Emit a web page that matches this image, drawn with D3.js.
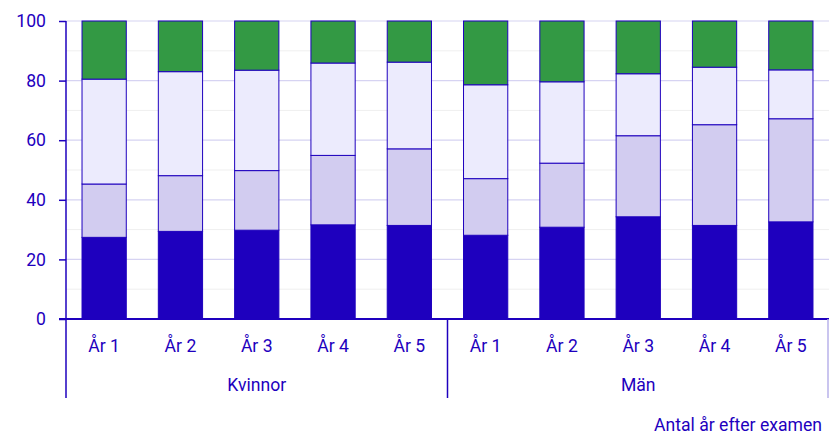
<!DOCTYPE html>
<html>
<head>
<meta charset="utf-8">
<script src="https://cdn.jsdelivr.net/npm/d3@7"></script>
<style>
html,body{margin:0;padding:0;background:#fff;}
svg{display:block;font-family:Roboto, "Noto Sans", sans-serif;}
</style>
</head>
<body>
<svg id="chart" width="829" height="434"></svg>
<script>
const groups = ["Kvinnor", "Män"];
const years = ["År 1", "År 2", "År 3", "År 4", "År 5"];
const seriesKeys = ["s1", "s2", "s3", "s4"];
const s1 = [27.4, 29.4, 29.8, 31.6, 31.4, 28.1, 30.8, 34.3, 31.4, 32.6];
const s2 = [17.9, 18.7, 20.0, 23.3, 25.7, 19.0, 21.5, 27.2, 33.8, 34.6];
const s3 = [35.2, 34.9, 33.7, 31.0, 29.1, 31.5, 27.3, 20.8, 19.3, 16.4];
const s4 = [19.5, 17.0, 16.5, 14.1, 13.8, 21.4, 20.4, 17.7, 15.5, 16.4];
const yTicks = [0, 20, 40, 60, 80, 100];
const xTitle = "Antal år efter examen";

const colors = ["#1e00be", "#d2ccf0", "#ecebfd", "#339944"];
const ink = "#1e00be";
const fs = 17.6;

const rows = [];
groups.forEach((g, gi) => years.forEach((y, yi) => {
  const i = gi * years.length + yi;
  rows.push({group: g, year: y, s1: s1[i], s2: s2[i], s3: s3[i], s4: s4[i]});
}));

const svg = d3.select("#chart");
const L = 66, R = 829, T = 21, B = 319;

const x0 = d3.scaleBand().domain(groups).range([L, R]).padding(0);
const x1 = d3.scaleBand().domain(years).range([0, x0.bandwidth()]).paddingInner(0.42).paddingOuter(0.21);
const y = d3.scaleLinear().domain([0, 100]).range([B, T]);

// minor gridlines
svg.append("g").selectAll("line").data(d3.range(10, 100, 20)).join("line")
  .attr("x1", L).attr("x2", R).attr("y1", d => y(d)).attr("y2", d => y(d))
  .attr("stroke", "#efefef").attr("stroke-width", 1);
// major gridlines
svg.append("g").selectAll("line").data(yTicks.filter(d => d > 0)).join("line")
  .attr("x1", L).attr("x2", R).attr("y1", d => y(d)).attr("y2", d => y(d))
  .attr("stroke", "#d6d3f2").attr("stroke-width", 1.2);

// bars
const stacked = d3.stack().keys(seriesKeys)(rows);
svg.append("g").selectAll("g").data(stacked).join("g")
  .attr("fill", (d, i) => colors[i])
  .selectAll("rect").data(d => d).join("rect")
  .attr("x", d => x0(d.data.group) + x1(d.data.year))
  .attr("width", x1.bandwidth())
  .attr("y", d => y(d[1]))
  .attr("height", d => y(d[0]) - y(d[1]))
  .attr("stroke", ink).attr("stroke-width", 1);

// y axis
const yAxis = d3.axisLeft(y).tickValues(yTicks).tickSize(7).tickPadding(13);
const ya = svg.append("g").attr("transform", `translate(${L},0)`).call(yAxis);
ya.select(".domain").remove();
ya.selectAll("line").attr("stroke", ink).attr("stroke-width", 1.5);
ya.selectAll("text").attr("fill", ink).attr("font-size", fs).attr("font-family", "Roboto");

// axis lines
svg.append("line").attr("x1", L).attr("x2", L).attr("y1", T).attr("y2", 398)
  .attr("stroke", ink).attr("stroke-width", 1.5);
svg.append("line").attr("x1", L - 7).attr("x2", R).attr("y1", B).attr("y2", B)
  .attr("stroke", ink).attr("stroke-width", 2);
// group separators
svg.append("g").selectAll("line").data(groups.slice(1)).join("line")
  .attr("x1", d => x0(d)).attr("x2", d => x0(d)).attr("y1", B).attr("y2", 398)
  .attr("stroke", ink).attr("stroke-width", 1.5);
svg.append("line").attr("x1", R - 1).attr("x2", R - 1).attr("y1", B).attr("y2", 398)
  .attr("stroke", "#b9b2ea").attr("stroke-width", 1.5);

// category labels
svg.append("g").selectAll("text").data(rows).join("text")
  .attr("x", d => x0(d.group) + x1(d.year) + x1.bandwidth() / 2)
  .attr("y", 352)
  .attr("text-anchor", "middle").attr("fill", ink).attr("font-size", fs)
  .text(d => d.year);
// group labels
svg.append("g").selectAll("text").data(groups).join("text")
  .attr("x", d => x0(d) + x0.bandwidth() / 2)
  .attr("y", 391)
  .attr("text-anchor", "middle").attr("fill", ink).attr("font-size", fs)
  .text(d => d);
// axis title
svg.append("text").attr("x", 654).attr("y", 431)
  .attr("text-anchor", "start").attr("fill", ink).attr("font-size", fs)
  .text(xTitle);
</script>
</body>
</html>
